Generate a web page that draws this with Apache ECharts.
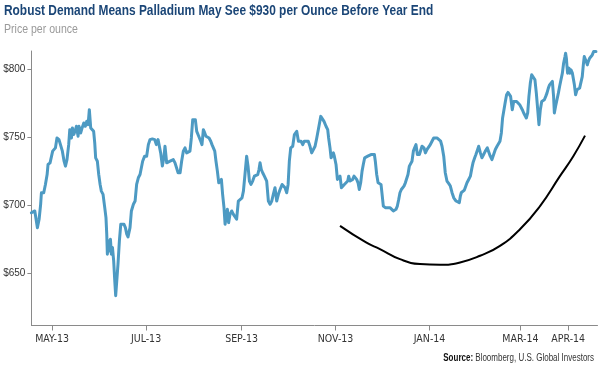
<!DOCTYPE html>
<html><head><meta charset="utf-8">
<script src="https://cdn.jsdelivr.net/npm/echarts@6/dist/echarts.min.js"></script>
<style>html,body{margin:0;padding:0;background:#fff}#c{width:600px;height:370px}</style>
</head><body><div id="c"></div>
<script>
// ---- data ----
const startDate = '2013-05-01';
const tickDates = ['2013-05-01','2013-07-01','2013-09-01','2013-11-01','2014-01-01','2014-03-01','2014-04-01'];
const tickLabels = ['MAY-13','JUL-13','SEP-13','NOV-13','JAN-14','MAR-14','APR-14'];
const yTicks = [650, 700, 750, 800];
// days since startDate
const dayOffsets = [
-13.4,-11.2,-10.4,-9.5,-8.4,-7.4,-6.9,-5.4,-4.3,-3.2,-2.6,-1.3,-0.4,0.4,1.3,2.2,3.2,4.5,5.6,6.7,7.8,8.7,9.7,10.8,11.5,12.1,12.6,13.2,14.1,14.9,15.8,16.9,17.5,18.6,19.5,20.6,21.6,22.5,23.4,24.2,25.1,26.0,27.0,27.7,28.3,29.4,30.3,31.2,32.0,33.1,34.2,35.0,35.5,35.9,36.6,37.2,37.9,38.5,39.2,40.0,40.7,41.3,42.0,42.8,43.7,44.6,45.6,46.7,47.6,48.5,
49.3,50.6,51.5,52.8,53.9,54.9,56.0,57.1,58.0,58.8,60.1,61.4,62.5,63.6,65.1,66.6,67.7,68.8,69.6,70.5,71.6,72.7,73.3,74.4,75.5,76.6,77.4,78.7,79.8,80.9,81.8,83.1,84.1,85.2,86.3,87.4,88.5,89.5,90.4,91.3,92.1,93.0,93.9,95.2,96.5,97.3,98.2,99.1,99.9,100.8,101.9,103.0,103.8,104.7,105.6,106.4,107.3,108.2,109.0,109.9,110.7,
111.6,112.3,112.9,113.8,114.6,115.5,116.6,117.7,118.8,119.8,120.9,122.0,123.3,124.2,125.2,126.3,127.2,128.1,129.1,130.2,131.3,132.4,133.5,134.3,135.0,135.8,136.7,137.8,139.3,140.4,141.5,142.6,143.6,144.7,145.8,146.9,148.0,149.3,150.1,151.2,152.3,153.2,154.0,154.9,156.2,157.3,158.8,159.9,160.9,161.6,162.7,163.7,164.8,166.3,167.4,168.5,169.6,170.7,171.8,172.8,
174.4,175.2,176.5,177.8,178.9,179.5,180.4,181.1,181.7,182.6,183.2,184.3,185.2,186.0,186.9,187.8,188.6,189.7,190.8,191.9,192.5,193.4,194.3,195.1,196.0,196.8,197.7,198.6,199.4,200.3,201.2,202.0,202.9,203.8,204.9,205.9,207.0,208.1,209.2,209.8,210.7,211.6,212.4,213.5,214.2,215.0,216.3,217.6,218.5,219.3,220.2,221.5,222.4,223.2,224.1,225.0,225.8,226.7,227.6,228.4,229.3,230.2,231.0,231.9,232.8,233.6,234.5,235.3,236.2,
237.1,238.4,239.2,240.1,240.8,241.4,242.3,243.3,244.4,245.5,246.6,247.7,248.8,249.8,250.9,252.2,253.1,254.2,255.2,256.3,257.4,258.5,259.6,260.7,261.3,262.2,263.2,264.3,265.0,265.6,266.5,267.6,268.7,269.3,270.4,271.5,272.5,273.2,274.3,275.1,276.2,276.9,278.0,279.0,280.1,281.2,282.5,283.4,284.4,285.5,286.6,287.7,288.8,289.9,290.7,291.6,292.4,293.3,294.2,295.0,295.9,296.8,297.6,
298.7,299.6,300.5,301.5,302.6,303.5,304.3,305.2,306.1,306.9,307.8,308.7,309.5,310.4,311.3,312.4,313.4,314.3,315.2,316.0,316.9,317.8,318.6,319.5,320.4,321.2,322.1,322.9,323.8,324.7,325.5,326.0,326.8,327.7,328.6,329.4,330.3,331.2,332.0,332.9,333.3,333.8,334.2,334.6,335.5,336.1,336.8,337.7,338.3,339.0,339.8,340.7,341.6,342.4,343.3,344.1,344.8,345.4,346.1,346.7,347.4,348.0,348.9,349.8,350.6,351.5,352.4,353.0
];
const prices = [
694.5,695.8,697.0,683.5,689.7,700.7,709.2,709.2,715.3,722.6,730.0,731.2,730.0,739.8,738.5,742.2,749.5,748.3,747.1,739.8,732.4,728.8,733.6,744.6,755.6,754.4,749.5,756.9,752.0,754.4,758.1,750.8,758.1,753.2,756.9,760.5,758.1,761.7,759.3,770.3,756.9,758.1,754.4,745.9,734.9,732.4,722.6,715.3,710.4,708.0,698.2,690.9,678.7,664.0,673.8,666.4,674.9,664.0,668.9,659.1,644.4,633.4,644.4,656.7,673.8,686.0,687.2,686.0,683.5,678.7,
676.7,683.5,695.8,700.7,703.1,715.3,720.2,722.6,722.6,732.4,736.1,736.1,744.6,748.3,748.8,748.3,744.6,748.3,747.1,738.5,728.8,736.1,743.4,731.2,730.0,732.4,731.2,733.6,731.2,732.4,723.9,723.9,732.4,739.8,742.2,738.5,738.5,739.8,749.5,763.0,764.2,763.0,754.4,750.8,747.1,744.6,755.6,753.2,750.8,749.5,749.5,747.1,744.6,744.6,739.8,732.4,725.1,716.5,717.8,719.0,708.0,
698.2,686.0,687.2,697.0,687.2,693.3,695.8,693.3,693.3,689.7,703.1,704.3,705.5,710.4,722.6,736.1,728.8,717.8,715.3,717.8,721.4,722.6,722.6,726.3,731.2,726.3,723.9,721.4,717.8,703.1,700.7,703.1,708.0,712.9,703.1,708.0,711.6,715.3,716.5,712.9,709.2,715.3,732.4,742.2,743.4,752.0,754.4,747.1,745.9,747.1,744.6,747.1,747.1,747.1,743.4,738.5,738.5,743.4,749.5,750.8,
765.4,764.2,761.7,758.1,755.6,749.5,742.2,734.9,733.6,738.5,736.1,730.0,719.0,717.8,721.4,712.9,712.9,715.3,716.5,717.8,721.4,717.8,716.5,719.0,721.4,720.2,719.0,716.5,711.6,716.5,725.1,730.0,734.9,736.1,736.1,736.1,737.3,738.5,737.3,732.4,722.6,716.5,716.5,715.3,708.0,699.4,698.2,698.2,697.0,698.2,697.0,695.8,695.8,697.0,699.4,704.3,709.2,711.6,710.4,714.1,716.5,717.8,722.6,728.8,730.0,732.4,739.8,742.2,744.6,
737.3,737.3,737.3,743.4,744.6,742.2,738.5,741.0,742.2,744.6,747.1,749.5,750.3,749.5,748.3,747.1,743.4,736.1,723.9,717.8,716.1,714.1,709.2,705.5,704.3,703.1,703.1,701.9,706.8,709.2,710.4,711.2,711.7,716.5,718.9,721.4,727.5,731.2,734.9,737.3,741.0,743.4,738.5,734.9,737.3,739.8,742.2,743.4,736.1,733.6,733.6,741.0,743.4,743.4,747.1,753.2,764.2,770.3,776.4,781.3,783.0,783.7,780.1,
770.3,776.4,777.6,776.4,776.4,774.0,772.8,770.3,767.9,766.6,764.2,767.9,780.1,789.9,796.0,796.0,792.3,782.5,770.3,759.3,770.3,776.4,776.4,777.6,780.1,782.5,786.2,788.6,789.9,791.1,780.1,767.9,772.8,777.6,782.5,787.4,792.3,797.2,804.5,809.4,811.9,808.2,802.1,797.2,800.9,797.2,799.6,797.2,796.0,788.6,781.3,784.9,786.2,786.2,787.4,794.7,803.3,809.4,810.6,805.7,803.3,805.7,808.2,809.4,810.6,813.1,814.3,813.1
];
// hand-drawn trend curve (days since startDate, price)
const trendDays = [186.9,203.8,212.8,225.8,238.8,251.8,264.8,277.8,290.7,303.7,316.7,329.6,338.3,345.9];
const trendPrices = [684.8,672.6,667.7,660.3,656.7,656.2,657.9,662.8,670.1,682.3,699.4,721.4,736.1,751.2];
const titleText = 'Robust Demand Means Palladium May See $930 per Ounce Before Year End';
const subtitleText = 'Price per ounce';
const sourceLabel = 'Source:';
const sourceText = ' Bloomberg, U.S. Global Investors';

// ---- build ----
const DAY = 86400000;
const t0 = Date.parse(startDate + 'T00:00:00Z');
const tickDays = tickDates.map(d => Math.round((Date.parse(d + 'T00:00:00Z') - t0) / DAY));
const labelFor = {};
tickDays.forEach((d, i) => { labelFor[d] = tickLabels[i]; });
const mainData = dayOffsets.map((d, i) => [d, prices[i]]);
const trendData = trendDays.map((d, i) => [d, trendPrices[i]]);

const AXFONT = "'DejaVu Sans Condensed','Liberation Sans',sans-serif";
const TFONT = "'Liberation Sans',Arial,sans-serif";
const axisColor = '#8a8a8a';

const chart = echarts.init(document.getElementById('c'), null, {renderer: 'canvas'});
chart.setOption({
  animation: false,
  backgroundColor: '#fff',
  graphic: [
    {type: 'text', x: 4, y: 11.5, scaleX: 0.85, silent: true,
     style: {text: titleText, fontFamily: TFONT, fontSize: 14, fontWeight: 'bold', fill: '#1b4677', textAlign: 'left', textVerticalAlign: 'middle'}},
    {type: 'text', x: 4, y: 29.5, scaleX: 0.88, silent: true,
     style: {text: subtitleText, fontFamily: TFONT, fontSize: 12, fill: '#9a9a9a', textAlign: 'left', textVerticalAlign: 'middle'}},
    {type: 'text', x: 594, y: 358, scaleX: 0.8, silent: true,
     style: {text: '{b|' + sourceLabel + '}' + sourceText, fontFamily: TFONT, fontSize: 10, fill: '#333', textAlign: 'right', textVerticalAlign: 'middle',
       rich: {b: {fontFamily: TFONT, fontSize: 10, fontWeight: 'bold', fill: '#111'}}}}
  ],
  grid: {left: 31.4, right: 2.5, top: 51, bottom: 44.5, containLabel: false, outerBoundsMode: 'none'},
  xAxis: {
    type: 'value', min: -13.4, max: 354,
    axisLine: {show: true, onZero: false, lineStyle: {color: axisColor, width: 1}},
    axisTick: {show: true, customValues: tickDays, length: 5, lineStyle: {color: axisColor}},
    axisLabel: {customValues: tickDays, formatter: v => labelFor[Math.round(v)] || '', fontFamily: AXFONT, fontSize: 10.5, color: '#333', margin: 8},
    splitLine: {show: false}
  },
  yAxis: {
    type: 'value', min: 611.5, max: 813.5,
    axisLine: {show: true, onZero: false, lineStyle: {color: axisColor, width: 1}},
    axisTick: {show: true, customValues: yTicks, length: 4, lineStyle: {color: axisColor}},
    axisLabel: {customValues: yTicks, formatter: v => '$' + v, fontFamily: TFONT, fontSize: 10, color: '#333', margin: 6},
    splitLine: {show: false}
  },
  series: [
    {
      type: 'line', data: mainData, showSymbol: false, clip: false,
      lineStyle: {color: '#4d9ac3', width: 3, join: 'round', cap: 'round'}
    },
    {
      type: 'line', data: trendData, showSymbol: false, smooth: true, clip: false,
      lineStyle: {color: '#000', width: 2}
    }
  ]
});
</script>
</body></html>
